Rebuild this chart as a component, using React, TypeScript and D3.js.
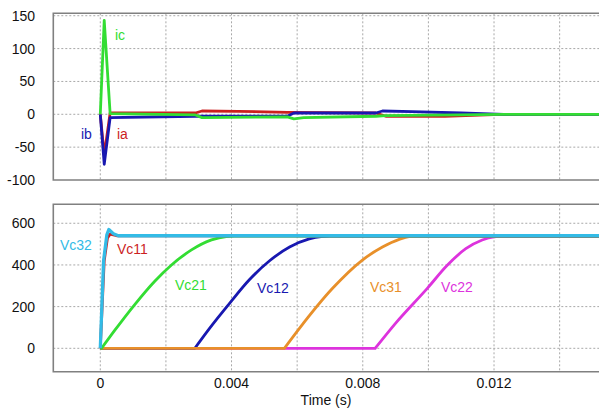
import React from "react";
import * as d3 from "d3";

// ---- Data ----
const timeTicks = [0, 0.002, 0.004, 0.006, 0.008, 0.01, 0.012, 0.014];
const timeTickLabels = ["0", "", "0.004", "", "0.008", "", "0.012", ""];
const currentTicks = [150, 100, 50, 0, -50, -100];
const voltageTicks = [600, 400, 200, 0];

// currents [time (s), value (A)]
const ia: [number, number][] = [
  [0, 0], [0.00012, -62], [0.0003, 2], [0.0029, 2], [0.0031, 5], [0.0042, 4.5],
  [0.0057, 3], [0.0084, 2], [0.0087, -3], [0.0105, -3], [0.0122, 0], [0.0152, 0],
];
const ib: [number, number][] = [
  [0, 0], [0.00012, -76], [0.0003, -5], [0.0029, -3], [0.0057, -3], [0.0059, 2],
  [0.0084, 2], [0.0086, 5], [0.0095, 4], [0.011, 2], [0.0123, 0], [0.0152, 0],
];
const ic: [number, number][] = [
  [0, 0], [0.00012, 143], [0.0003, 1], [0.0029, -1], [0.0031, -5], [0.0057, -4],
  [0.0059, -7], [0.0062, -5], [0.0084, -3], [0.0087, -2], [0.0123, 0], [0.0152, 0],
];

// capacitor voltages [time (s), value (V)] (charging part; flat at 0 before the first point)
const vc32: [number, number][] = [
  [0, 0], [0.0001, 420], [0.0002, 545], [0.00026, 570], [0.0004, 550], [0.00055, 540], [0.0152, 540],
];
const vc11: [number, number][] = [
  [0, 0], [0.00012, 420], [0.00022, 530], [0.0003, 548], [0.0005, 540], [0.0152, 538],
];
const vc21: [number, number][] = [
  [0.00004, 0], [0.00045, 88], [0.00105, 210], [0.00166, 322], [0.00217, 400],
  [0.00278, 472], [0.00339, 520], [0.00384, 536], [0.0041, 538], [0.0152, 538],
];
const vc12: [number, number][] = [
  [0.00288, 0], [0.00333, 96], [0.00394, 216], [0.00455, 330], [0.00516, 420],
  [0.00577, 486], [0.00637, 525], [0.00673, 536], [0.007, 538], [0.0152, 538],
];
const vc31: [number, number][] = [
  [0.00561, 0], [0.00607, 96], [0.00708, 288], [0.00796, 420], [0.0086, 486],
  [0.00911, 523], [0.00941, 536], [0.0097, 538], [0.0152, 538],
];
const vc22: [number, number][] = [
  [0.00838, 0], [0.00901, 122], [0.00998, 290], [0.01056, 396], [0.01114, 478],
  [0.01164, 520], [0.012, 535], [0.0123, 538], [0.0152, 538],
];

const C = {
  red: "#cc1f1f",
  blue: "#1818b0",
  green: "#33dd33",
  cyan: "#33bbe6",
  orange: "#e8902a",
  magenta: "#dd33dd",
};

export default function App() {
  const W = 599, H = 409;
  const left = 53.3, right = 600;
  const top1 = 13.3, bot1 = 180;
  const top2 = 204.3, bot2 = 371.7;

  const x = d3.scaleLinear().domain([-0.001432, 0.01523]).range([left, right]);
  const y1 = d3.scaleLinear().domain([-100, 153.7]).range([bot1, top1]);
  const y2 = d3.scaleLinear().domain([-112.3, 691]).range([bot2, top2]);

  const line1 = d3.line<[number, number]>().x(d => x(d[0])).y(d => y1(d[1]));
  const line2 = d3.line<[number, number]>().x(d => x(d[0])).y(d => y2(d[1]));
  const smooth2 = d3.line<[number, number]>().x(d => x(d[0])).y(d => y2(d[1])).curve(d3.curveMonotoneX);

  // a charging curve: flat at zero from t=0 up to its first point, then the smooth rise
  const charge = (pts: [number, number][]) => {
    const flat = line2([[0, 0], pts[0]]) || "";
    return flat + (smooth2(pts) || "").replace(/^M/, "L");
  };

  const font = "'Liberation Sans', Arial, sans-serif";
  const grid = { stroke: "#a8a8a8", strokeWidth: 1, strokeDasharray: "2,2" };
  const lw = 2.8;

  const panel = (top: number, bot: number, yScale: d3.ScaleLinear<number, number>, ticks: number[], hgrid: number[]) => (
    <g>
      {timeTicks.map((t, i) => (
        <line key={"v" + i} x1={x(t)} x2={x(t)} y1={top} y2={bot} {...grid} />
      ))}
      {hgrid.map((v, i) => (
        <line key={"h" + i} x1={left} x2={right} y1={yScale(v)} y2={yScale(v)} {...grid} />
      ))}
      {ticks.map((v, i) => (
        <text key={"t" + i} x={35} y={yScale(v)} dy="0.36em" textAnchor="end" fontSize={14} fontFamily={font} fill="#111">
          {v}
        </text>
      ))}
    </g>
  );

  const frame = (top: number, bot: number) => (
    <path d={`M${right},${top}H${left}V${bot}H${right}`} fill="none" stroke="#808080" strokeWidth={1.6} />
  );

  return (
    <svg width={W} height={H} style={{ position: "absolute", left: 0, top: 0, background: "#fff" }}>
      <rect x={0} y={0} width={W} height={H} fill="#fff" />
      {panel(top1, bot1, y1, currentTicks, [150, 100, 50, 0, -50])}
      {panel(top2, bot2, y2, voltageTicks, [600, 400, 200, 0])}

      <defs>
        <clipPath id="c1"><rect x={left} y={top1} width={right - left} height={bot1 - top1} /></clipPath>
        <clipPath id="c2"><rect x={left} y={top2} width={right - left} height={bot2 - top2} /></clipPath>
      </defs>
      <g clipPath="url(#c1)" fill="none" strokeWidth={lw} strokeLinejoin="round">
        <path d={line1(ia) || ""} stroke={C.red} />
        <path d={line1(ib) || ""} stroke={C.blue} />
        <path d={line1(ic) || ""} stroke={C.green} />
      </g>
      <g clipPath="url(#c2)" fill="none" strokeWidth={lw} strokeLinejoin="round">
        <path d={charge(vc22)} stroke={C.magenta} />
        <path d={charge(vc12)} stroke={C.blue} />
        <path d={charge(vc31)} stroke={C.orange} />
        <path d={charge(vc21)} stroke={C.green} />
        <path d={line2(vc11) || ""} stroke={C.red} />
        <path d={line2(vc32) || ""} stroke={C.cyan} strokeWidth={lw + 0.5} />
      </g>

      {frame(top1, bot1)}
      {frame(top2, bot2)}

      {/* series labels */}
      <g fontFamily={font} fontSize={14}>
        <text x={115} y={40} fill={C.green}>ic</text>
        <text x={81} y={139} fill={C.blue}>ib</text>
        <text x={117} y={139} fill={C.red}>ia</text>
        <text x={60} y={250} fill={C.cyan}>Vc32</text>
        <text x={117} y={254} fill={C.red}>Vc11</text>
        <text x={175} y={290} fill={C.green}>Vc21</text>
        <text x={257} y={293} fill={C.blue}>Vc12</text>
        <text x={370} y={292} fill={C.orange}>Vc31</text>
        <text x={441} y={292} fill={C.magenta}>Vc22</text>
      </g>

      {timeTicks.map((t, i) =>
        timeTickLabels[i] ? (
          <text key={"xl" + i} x={x(t)} y={388} textAnchor="middle" fontSize={14} fontFamily={font} fill="#111">
            {timeTickLabels[i]}
          </text>
        ) : null
      )}
      <text x={326} y={405} textAnchor="middle" fontSize={14} fontFamily={font} fill="#111">Time (s)</text>
    </svg>
  );
}
